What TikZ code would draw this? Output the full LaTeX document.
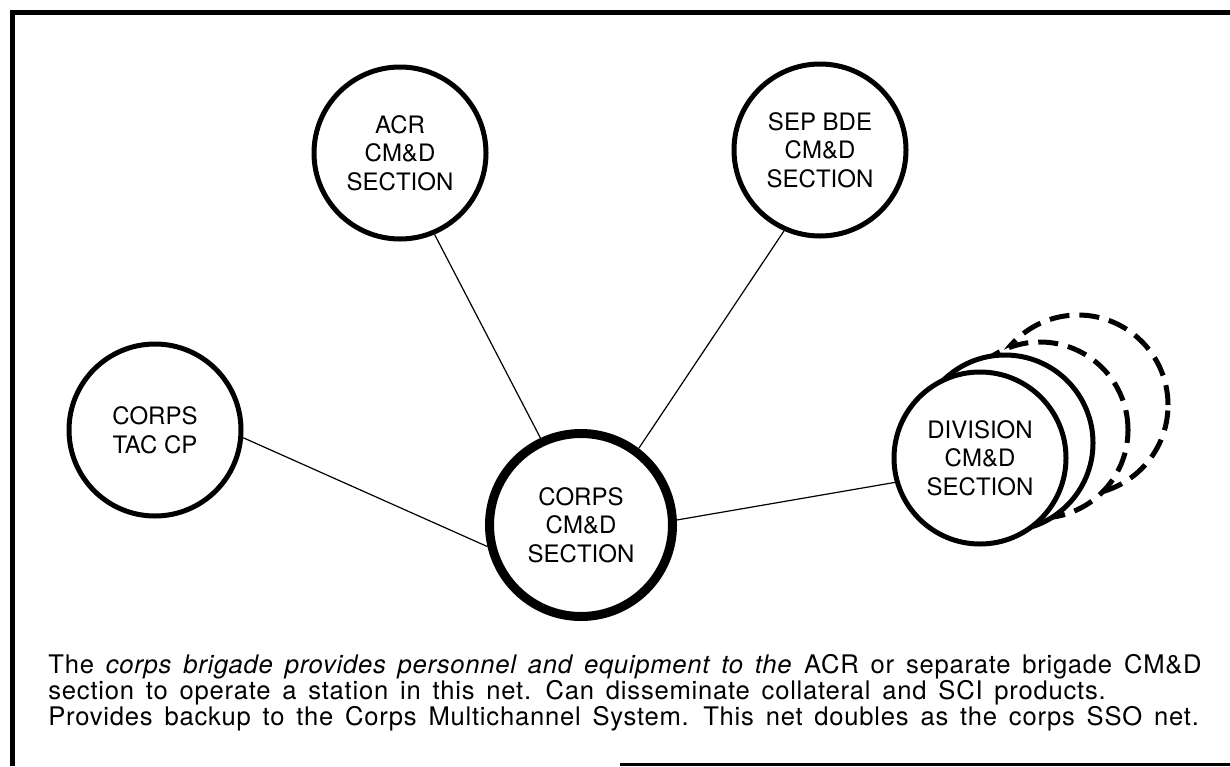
\documentclass[tikz,border=0pt]{standalone}
\usepackage{fontspec}
\setmainfont{TeX Gyre Heros}
\newfontfamily\notefont[LetterSpace=3, WordSpace=1.5]{TeX Gyre Heros}
\begin{document}
\begin{tikzpicture}[x=0.5pt,y=-0.5pt,
  station/.style={circle, draw, line width=2.5pt, minimum size=86pt, inner sep=0pt,
    align=center, fill=white, font=\fontsize{12}{14.25}\selectfont},
  hub/.style={station, line width=4.5pt, minimum size=91.5pt},
  link/.style={line width=0.6pt},
  rim/.style={line width=2.5pt, fill=white},
  dashedrim/.style={rim, dash pattern=on 10pt off 5pt},
  caption/.style={anchor=base west, inner sep=0pt, font=\notefont\fontsize{12.8}{14}\selectfont}]
\useasboundingbox (0,0) rectangle (1230,766);

% page frame
\draw[line width=2.5pt] (12,766) -- (12,12.5) -- (1230,12.5);
\draw[line width=1.5pt] (620,764) -- (1230,764);

% stacked division sections, drawn back to front
\coordinate (divc) at (980,458);
\draw[dashedrim] ([shift={(98,-53)}]divc) circle[radius=45pt];
\draw[dashedrim] ([shift={(60,-28)}]divc) circle[radius=44pt];
\draw[rim] ([shift={(25,-15)}]divc) circle[radius=44pt];

% stations
\node[station] (tac) at (155,430) {CORPS\\TAC CP};
\node[station] (acr) at (400,153) {ACR\\CM\&D\\SECTION};
\node[station] (sep) at (820,150) {SEP BDE\\CM\&D\\SECTION};
\node[hub] (corps) at (581,525) {CORPS\\CM\&D\\SECTION};
\node[station] (div) at (divc) {DIVISION\\CM\&D\\SECTION};

% net links
\draw[link] (tac.-5) -- (corps.193.7);
\draw[link] (acr.-67.4) -- (corps.115.2);
\draw[link] (sep.246.4) -- (corps.53.6);
\draw[link] (corps.3) -- (div.196);

% description
\node[caption] (l1) at (48,673) {The \textit{corps brigade provides personnel and equipment to the} ACR or separate brigade CM\&D};
\node[caption] (l2) at (48,699) {section to operate a station in this net. Can disseminate collateral and SCI products.};
\node[caption] (l3) at (48,725) {Provides backup to the Corps Multichannel System. This net doubles as the corps SSO net.};
\end{tikzpicture}
\end{document}
